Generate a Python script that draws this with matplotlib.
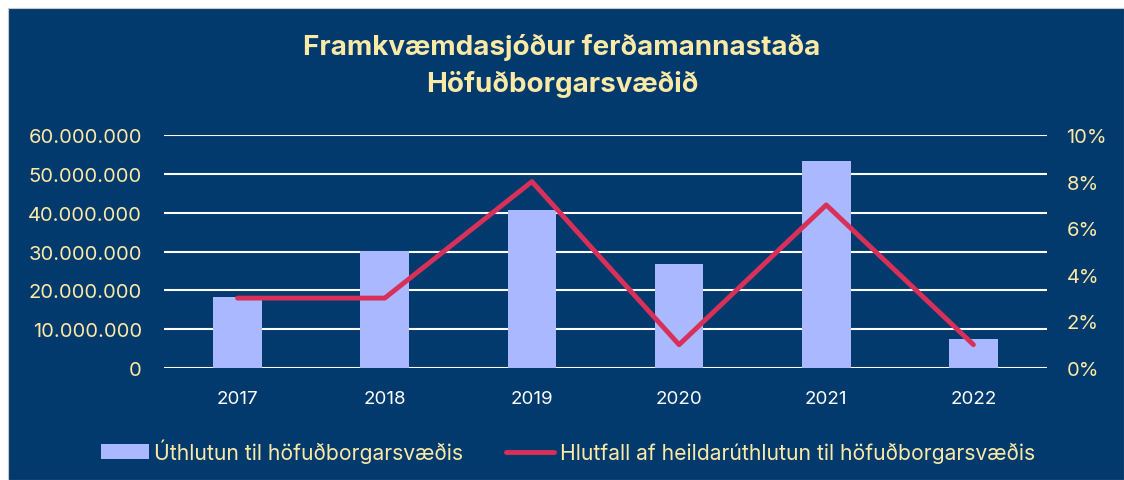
import matplotlib.pyplot as plt
from matplotlib.patches import Rectangle
from matplotlib.ticker import FuncFormatter

years = ['2017', '2018', '2019', '2020', '2021', '2022']
allocation = [18300000, 30100000, 40700000, 26800000, 53300000, 7500000]
share_pct = [3, 3, 8, 1, 7, 1]

title = 'Framkvæmdasjóður ferðamannastaða\nHöfuðborgarsvæðið'
bar_label = 'Úthlutun til höfuðborgarsvæðis'
line_label = 'Hlutfall af heildarúthlutun til höfuðborgarsvæðis'

navy = '#023a6d'
text_col = '#fbe9a6'
bar_col = '#a9b8ff'
line_col = '#d9305a'

plt.rcParams['font.family'] = ['Inter', 'DejaVu Sans']

fig = plt.figure(figsize=(11.24, 4.81), dpi=100, facecolor='white')
# navy panel with a thin white margin on top and left
fig.patches.append(Rectangle((8 / 1124, 0), 1 - 8 / 1124, 1 - 9 / 481,
                             transform=fig.transFigure, facecolor=navy,
                             edgecolor='#c8c8c8', linewidth=0.8, zorder=-5))

ax = fig.add_axes([164 / 1124, 1 - 369 / 481, (1047 - 164) / 1124, (369 - 136) / 481])
ax.set_facecolor('none')
x = list(range(len(years)))
ax.bar(x, allocation, width=0.33, color=bar_col, zorder=2, label=bar_label)
ax.set_ylim(0, 60000000)
ax.set_xlim(-0.5, len(years) - 0.5)
ax.set_yticks(range(0, 60000001, 10000000))
ax.yaxis.set_major_formatter(FuncFormatter(lambda v, p: f'{int(v):,}'.replace(',', '.')))
ax.set_xticks(x)
ax.set_xticklabels(years)
ax.grid(axis='y', color='white', linewidth=1.5, zorder=1)
ax.set_axisbelow(True)
for s in ax.spines.values():
    s.set_visible(False)
ax.tick_params(axis='both', length=0, colors=text_col, labelsize=14.5)
ax.tick_params(axis='y', pad=16)
ax.tick_params(axis='x', pad=16, labelsize=13.5)
for t in ax.get_xticklabels():
    t.set_color('white')

ax2 = ax.twinx()
ax2.plot(x, share_pct, color=line_col, linewidth=3.5, solid_capstyle='round', zorder=3, label=line_label)
ax2.set_ylim(0, 10)
ax2.set_yticks(range(0, 11, 2))
ax2.yaxis.set_major_formatter(FuncFormatter(lambda v, p: f'{int(v)}%'))
for s in ax2.spines.values():
    s.set_visible(False)
ax2.tick_params(axis='y', length=0, colors=text_col, labelsize=14.5, pad=14)

fig.text(0.5, 1 - 66 / 481, title, ha='center', va='center', color=text_col,
         fontsize=20, fontweight='bold', linespacing=1.5)

h1, l1 = ax.get_legend_handles_labels()
h2, l2 = ax2.get_legend_handles_labels()
leg = fig.legend(h1 + h2, l1 + l2, loc='center', bbox_to_anchor=(0.505, 1 - 452 / 481),
                 ncol=2, frameon=False, fontsize=15.2, labelcolor=text_col,
                 handlelength=2.3, handletextpad=0.25, columnspacing=2.0)

fig.savefig('out.png', dpi=100, facecolor='white')
